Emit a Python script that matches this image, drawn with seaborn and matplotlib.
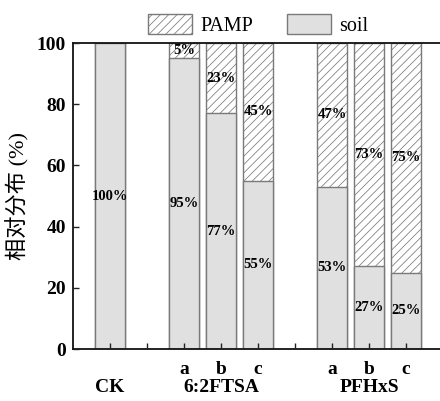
import matplotlib
matplotlib.use("Agg")
import matplotlib.pyplot as plt
import matplotlib.transforms as mtransforms
import seaborn as sns
import pandas as pd
from matplotlib.patches import Patch

# ---- data ----
positions = [0, 2, 3, 4, 6, 7, 8]
soil = [100, 95, 77, 55, 53, 27, 25]
pamp = [0, 5, 23, 45, 47, 73, 75]
tick_positions = [0, 1, 2, 3, 4, 5, 6, 7, 8]
tick_labels = ["", "", "a", "b", "c", "", "a", "b", "c"]
group_names = ["CK", "6:2FTSA", "PFHxS"]
group_centers = [0, 3, 7]
yticks = [0, 20, 40, 60, 80, 100]

sns.set_theme(style="ticks")
plt.rcParams["font.family"] = ["Liberation Serif", "Noto Sans CJK SC", "DejaVu Serif"]
plt.rcParams["hatch.linewidth"] = 0.55
plt.rcParams["text.color"] = "black"
plt.rcParams["axes.labelcolor"] = "black"
plt.rcParams["xtick.color"] = "black"
plt.rcParams["ytick.color"] = "black"

df = pd.DataFrame({"pos": positions, "soil": soil, "pamp": pamp})
df["total"] = df["soil"] + df["pamp"]

fig = plt.figure(figsize=(4.40, 4.01), dpi=100)
ax = fig.add_axes([73 / 440, 1 - 349 / 401, (443 - 73) / 440, (349 - 43) / 401])
ax.set_axisbelow(False)

edge = "#7a7a7a"
sns.barplot(data=df, x="pos", y="total", native_scale=True, width=0.8,
            color="white", edgecolor=edge, linewidth=1.0, hatch="////",
            ax=ax, errorbar=None)
sns.barplot(data=df, x="pos", y="soil", native_scale=True, width=0.8,
            color="#e0e0e0", edgecolor=edge, linewidth=1.0,
            ax=ax, errorbar=None)
for p in ax.patches:
    if p.get_hatch():
        p.set_facecolor("white")
    else:
        p.set_facecolor("#e0e0e0")

# percentage labels
for x, s, pm in zip(positions, soil, pamp):
    ax.text(x, s / 2, f"{s}%", ha="center", va="center",
            fontsize=10.5, fontweight="bold", color="black")
    if pm > 0:
        ax.text(x, s + pm / 2, f"{pm}%", ha="center", va="center",
                fontsize=10.5, fontweight="bold", color="black")

ax.set_xlim(-1, 9)
ax.set_ylim(0, 100)
ax.set_yticks(yticks)
ax.set_yticklabels([str(v) for v in yticks], fontsize=14, fontweight="bold")
ax.set_xticks(tick_positions)
ax.set_xticklabels(tick_labels, fontsize=14, fontweight="bold")
ax.tick_params(axis="both", direction="in", length=4, width=1.0, color="#222222")
ax.tick_params(axis="x", pad=9)
ax.tick_params(axis="y", pad=5)
ax.set_xlabel("")
ax.set_ylabel("相对分布 (%)", family=["Liberation Serif", "Noto Sans CJK SC"],
              fontsize=16, fontweight="light", labelpad=5)

for side in ["left", "bottom", "top"]:
    ax.spines[side].set_visible(True)
    ax.spines[side].set_linewidth(1.3)
    ax.spines[side].set_color("#111111")
ax.spines["right"].set_visible(False)

trans = mtransforms.blended_transform_factory(ax.transData, ax.transAxes)
for name, cx in zip(group_names, group_centers):
    ax.text(cx, -0.127, name, transform=trans, ha="center", va="center",
            fontsize=14, fontweight="bold")

handles = [Patch(facecolor="white", edgecolor=edge, hatch="////", linewidth=1.0),
           Patch(facecolor="#e0e0e0", edgecolor=edge, linewidth=1.0)]
fig.legend(handles, ["PAMP", "soil"], loc="center", bbox_to_anchor=(258 / 440, 1 - 25 / 401),
           ncol=2, frameon=False, fontsize=14.5, handlelength=2.2, handleheight=1.1,
           handletextpad=0.4, columnspacing=1.7, borderaxespad=0, borderpad=0)

fig.savefig("out.png", dpi=100)
